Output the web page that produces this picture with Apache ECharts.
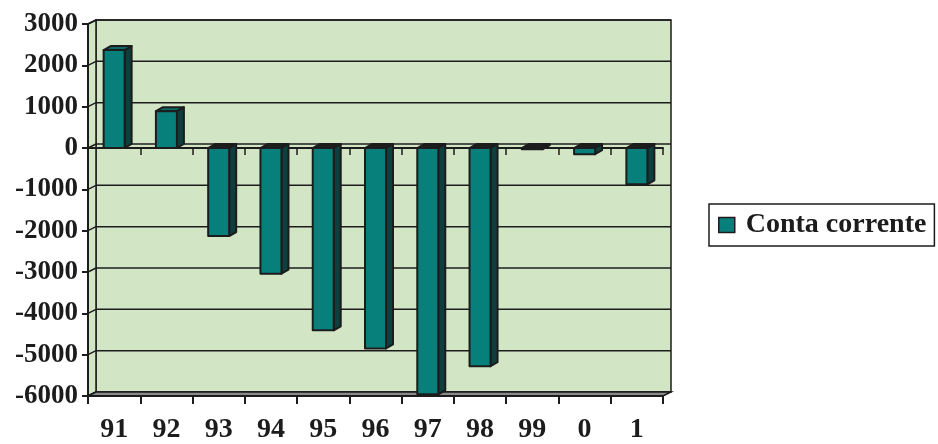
<!DOCTYPE html>
<html>
<head>
<meta charset="utf-8">
<script src="https://cdn.jsdelivr.net/npm/echarts@6/dist/echarts.min.js"></script>
<style>
  html, body { margin: 0; padding: 0; background: #ffffff; }
  #chart { width: 938px; height: 444px; }
</style>
</head>
<body>
<div id="chart"></div>
<script>
// Years (two-digit) and current account balance
const years = ['91', '92', '93', '94', '95', '96', '97', '98', '99', '0', '1'];
const contaCorrente = [2370, 890, -2130, -3040, -4410, -4850, -5960, -5280, -30, -150, -880];
const yTicks = [3000, 2000, 1000, 0, -1000, -2000, -3000, -4000, -5000, -6000];

const FONT = "'Liberation Serif', 'Times New Roman', serif";
const INK = '#1c1c1c';
const WALL = '#d2e6c6';
const FRONT = '#07807c';
const SIDE = '#0c3f3d';
const CAP_POS = '#0b6a67';
const CAP_NEG = '#1d1d1d';

// depth of the back wall and of each bar block
const WALL_DX = 8, WALL_DY = 4;
const BAR_DX = 7, BAR_DY = 4, BAR_HALF = 10.5;

const chart = echarts.init(document.getElementById('chart'));

function renderWall(params) {
  const cs = params.coordSys;
  const x0 = cs.x, y0 = cs.y, y1 = cs.y + cs.height;
  return {
    type: 'group',
    children: [
      { // back wall
        type: 'rect',
        shape: { x: x0 + WALL_DX, y: y0 - WALL_DY, width: cs.width, height: cs.height },
        style: { fill: WALL, stroke: INK, lineWidth: 1.5 }
      },
      { // left side wall
        type: 'polygon',
        shape: { points: [[x0, y0], [x0 + WALL_DX, y0 - WALL_DY], [x0 + WALL_DX, y1 - WALL_DY], [x0, y1]] },
        style: { fill: WALL, stroke: INK, lineWidth: 1.5 }
      }
    ]
  };
}

function renderGridLine(params, api) {
  const cs = params.coordSys;
  const y = api.coord([0, api.value(1)])[1];
  const x0 = cs.x, x1 = cs.x + cs.width;
  return {
    type: 'group',
    children: [
      { type: 'line', shape: { x1: x0 + WALL_DX, y1: y - WALL_DY, x2: x1 + WALL_DX, y2: y - WALL_DY },
        style: { stroke: INK, lineWidth: 1.5 } },
      { type: 'line', shape: { x1: x0, y1: y, x2: x0 + WALL_DX, y2: y - WALL_DY },
        style: { stroke: INK, lineWidth: 1.5 } }
    ]
  };
}

function renderFloor(params) {
  const cs = params.coordSys;
  const x0 = cs.x, x1 = cs.x + cs.width, y1 = cs.y + cs.height;
  return {
    type: 'polygon',
    shape: { points: [[x0, y1], [x0 + WALL_DX, y1 - WALL_DY], [x1 + WALL_DX, y1 - WALL_DY], [x1, y1]] },
    style: { fill: '#8a8a8a', stroke: INK, lineWidth: 1.5 }
  };
}

function renderBar(params, api) {
  const i = api.value(0), v = api.value(1);
  const base = api.coord([i, 0]);
  const tip = api.coord([i, v]);
  const cx = base[0];
  const l = cx - BAR_HALF, r = cx + BAR_HALF;
  const top = Math.min(base[1], tip[1]);
  const bot = Math.max(base[1], tip[1]);
  const edge = { stroke: INK, lineWidth: 2, lineJoin: 'round' };
  return {
    type: 'group',
    children: [
      { type: 'polygon',
        shape: { points: [[r, top], [r + BAR_DX, top - BAR_DY], [r + BAR_DX, bot - BAR_DY], [r, bot]] },
        style: Object.assign({ fill: SIDE }, edge) },
      { type: 'polygon',
        shape: { points: [[l, top], [l + BAR_DX, top - BAR_DY], [r + BAR_DX, top - BAR_DY], [r, top]] },
        style: Object.assign({ fill: v >= 0 ? CAP_POS : CAP_NEG }, edge) },
      { type: 'rect',
        shape: { x: l, y: top, width: r - l, height: bot - top },
        style: Object.assign({ fill: FRONT }, edge) }
    ]
  };
}

const option = {
  animation: false,
  backgroundColor: '#ffffff',
  textStyle: { fontFamily: FONT },
  grid: { left: 88, right: 275, top: 24, bottom: 48 },
  legend: {
    left: 709, top: 204,
    orient: 'vertical',
    padding: [7, 8, 7, 9],
    borderColor: INK, borderWidth: 1.5, borderRadius: 0,
    backgroundColor: '#ffffff',
    itemWidth: 16, itemHeight: 15,
    icon: 'rect',
    textStyle: { fontFamily: FONT, fontSize: 28, fontWeight: 'bold', color: INK, padding: [0, 0, 0, 6] },
    data: [{ name: 'Conta corrente', itemStyle: { color: FRONT, borderColor: INK, borderWidth: 1.5 } }]
  },
  xAxis: [
    {
      type: 'category', data: years, position: 'bottom',
      axisLine: { onZero: false, lineStyle: { color: INK, width: 2 } },
      axisTick: { show: true, length: 8, lineStyle: { color: INK, width: 2 } },
      axisLabel: { fontFamily: FONT, fontSize: 28, fontWeight: 'bold', color: INK, margin: 20 },
      splitLine: { show: false },
      z: 2
    },
    {
      type: 'category', data: years, position: 'bottom',
      axisLine: { onZero: true, lineStyle: { color: INK, width: 2 } },
      axisTick: { show: true, length: 7, lineStyle: { color: INK, width: 1.5 } },
      axisLabel: { show: false },
      splitLine: { show: false },
      z: 2
    }
  ],
  yAxis: {
    type: 'value', min: -6000, max: 3000, interval: 1000,
    axisLine: { show: true, lineStyle: { color: INK, width: 2 } },
    axisTick: { show: true, length: 6, lineStyle: { color: INK, width: 2 } },
    axisLabel: {
      fontFamily: FONT, fontSize: 27, fontWeight: 'bold', color: INK, margin: 10,
      formatter: function (v) { return String(v); }
    },
    splitLine: { show: false },
    z: 2
  },
  series: [
    { type: 'custom', name: 'wall', silent: true, z: 0, renderItem: renderWall, data: [[0, 0]] },
    { type: 'custom', name: 'grid', silent: true, z: 1, renderItem: renderGridLine,
      data: yTicks.map(function (v) { return [0, v]; }) },
    { type: 'custom', name: 'floor', silent: true, z: 1, renderItem: renderFloor, data: [[0, 0]] },
    { type: 'custom', name: 'Conta corrente', z: 3, renderItem: renderBar,
      itemStyle: { color: FRONT },
      data: contaCorrente.map(function (v, i) { return [i, v]; }) }
  ]
};

chart.setOption(option);
</script>
</body>
</html>
